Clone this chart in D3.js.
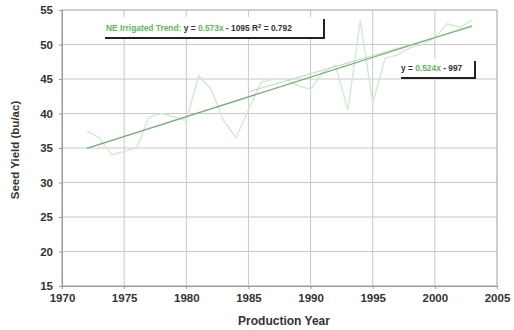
<!DOCTYPE html>
<html><head><meta charset="utf-8">
<script src="https://cdn.jsdelivr.net/npm/d3@7"></script>
<style>body{margin:0;background:#fff}svg{display:block}</style>
</head><body>
<svg id="c" width="514" height="330"></svg>
<script>
const years = [1972,1973,1974,1975,1976,1977,1978,1979,1980,1981,1982,1983,1984,1985,1986,1987,1988,1989,1990,1991,1992,1993,1994,1995,1996,1997,1998,1999,2000,2001,2002,2003];
const yields = [37.5,36.5,34,34.5,35,39.5,40,39.5,39,45.5,43.5,39,36.5,40.5,44.5,45,45,44,43.5,46,47,40.5,53.5,41.5,48,48.5,49.5,50,51,53,52.5,53.5];
const trend1 = {slope:0.573, intercept:-1095, from:1972, to:2003};
const trend2 = {slope:0.524, intercept:-997, from:1985, to:2003};
const xTicks = [1970,1975,1980,1985,1990,1995,2000,2005];
const yTicks = [15,20,25,30,35,40,45,50,55];

const svg = d3.select('#c');
const L=62,R=497,T=10,B=286;
const x = d3.scaleLinear().domain([1970,2005]).range([L,R]);
const y = d3.scaleLinear().domain([15,55]).range([B,T]);
const FF = 'Liberation Sans, Arial, sans-serif';

// grid
svg.append('g').selectAll('line').data(xTicks).join('line')
  .attr('x1',d=>x(d)).attr('x2',d=>x(d)).attr('y1',T).attr('y2',B)
  .attr('stroke','#c8c8c8').attr('stroke-width',1);
svg.append('g').selectAll('line').data(yTicks).join('line')
  .attr('x1',L).attr('x2',R).attr('y1',d=>y(d)).attr('y2',d=>y(d))
  .attr('stroke','#c8c8c8').attr('stroke-width',1);
svg.append('rect').attr('x',L).attr('y',T).attr('width',R-L).attr('height',B-T)
  .attr('fill','none').attr('stroke','#b8b8b8');

// axes
const xa = svg.append('g').attr('transform',`translate(0,${B})`)
  .call(d3.axisBottom(x).tickValues(xTicks).tickFormat(d3.format('d')).tickSize(3));
const ya = svg.append('g').attr('transform',`translate(${L},0)`)
  .call(d3.axisLeft(y).tickValues(yTicks).tickSize(3));
[xa,ya].forEach(a=>{
  a.select('.domain').attr('stroke','#999');
  a.selectAll('.tick line').attr('stroke','#999');
  a.selectAll('text').attr('font-family',FF)
   .attr('font-size',11.5).attr('font-weight','bold').attr('fill','#333');
});
xa.selectAll('text').attr('dy','0.85em');
ya.selectAll('text').attr('dx','-3');

// data line
svg.append('path').datum(years.map((d,i)=>[d,yields[i]]))
  .attr('d',d3.line().x(d=>x(d[0])).y(d=>y(d[1])))
  .attr('fill','none').attr('stroke','#cdeccd').attr('stroke-width',1.3);

// trends
function tline(t,color,w){
  svg.append('line')
    .attr('x1',x(t.from)).attr('y1',y(t.slope*t.from+t.intercept))
    .attr('x2',x(t.to)).attr('y2',y(t.slope*t.to+t.intercept))
    .attr('stroke',color).attr('stroke-width',w);
}
tline(trend2,'#b4e0b4',1);
tline(trend1,'#6fae74',1.2);

// label boxes
function box(bx,by,bw,bh){
  svg.append('rect').attr('x',bx+2).attr('y',by+2).attr('width',bw).attr('height',bh).attr('fill','#222');
  svg.append('rect').attr('x',bx).attr('y',by).attr('width',bw).attr('height',bh).attr('fill','#fff');
}
box(103,17,220,20);
const t1 = svg.append('text').attr('x',106).attr('y',31)
  .attr('font-family',FF).attr('font-size',8.4).attr('font-weight','bold');
t1.append('tspan').attr('fill','#5cb85c').text('NE Irrigated Trend:  ');
t1.append('tspan').attr('fill','#333').text('y = ');
t1.append('tspan').attr('fill','#5cb85c').text(trend1.slope+'x');
t1.append('tspan').attr('fill','#333').text(' - '+(-trend1.intercept)+'  R');
t1.append('tspan').attr('fill','#333').attr('font-size',6).attr('dy',-3).text('2');
t1.append('tspan').attr('fill','#333').attr('dy',3).text(' = 0.792');

box(399,59,75,18);
const t2 = svg.append('text').attr('x',401).attr('y',71)
  .attr('font-family',FF).attr('font-size',8.4).attr('font-weight','bold');
t2.append('tspan').attr('fill','#333').text('y = ');
t2.append('tspan').attr('fill','#5cb85c').text(trend2.slope+'x');
t2.append('tspan').attr('fill','#333').text(' - '+(-trend2.intercept));

// axis titles
svg.append('text').attr('x',284).attr('y',325).attr('text-anchor','middle')
  .attr('font-family',FF).attr('font-size',12).attr('font-weight','bold').attr('fill','#333')
  .text('Production Year');
svg.append('text').attr('transform','translate(19,150) rotate(-90)').attr('text-anchor','middle')
  .attr('font-family',FF).attr('font-size',11.5).attr('font-weight','bold').attr('fill','#333')
  .text('Seed Yield (bu/ac)');
</script>
</body></html>
